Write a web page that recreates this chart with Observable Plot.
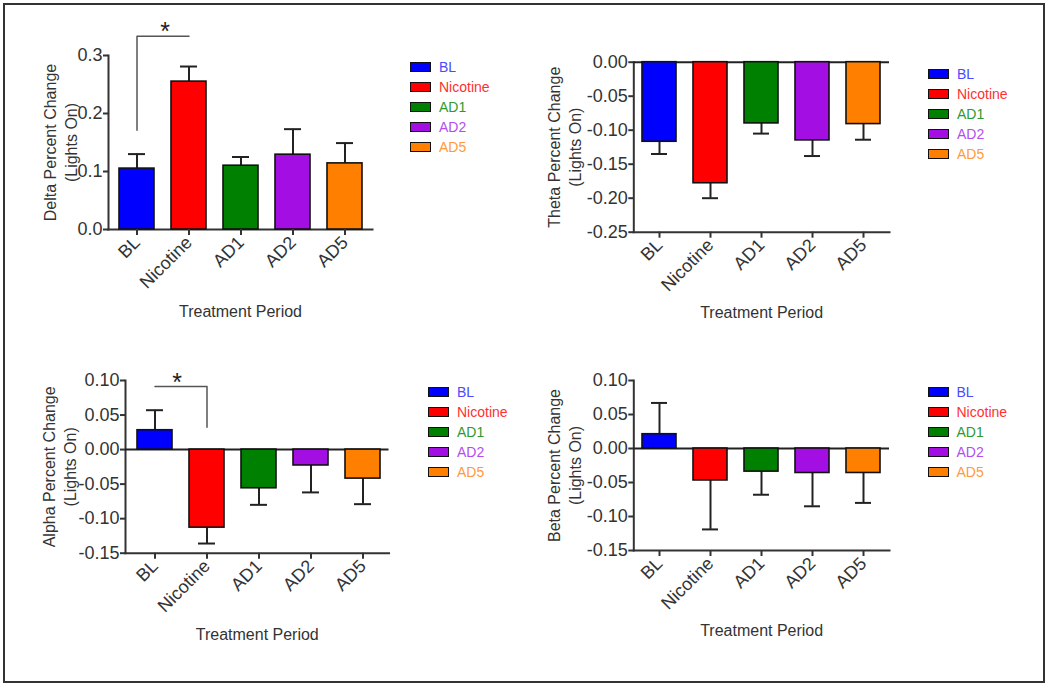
<!DOCTYPE html>
<html><head><meta charset="utf-8">
<script src="https://cdn.jsdelivr.net/npm/d3@7"></script>
<script src="https://cdn.jsdelivr.net/npm/@observablehq/plot@0.6"></script>
<style>
body{margin:0;background:#fff;}
#root{position:relative;width:1050px;height:687px;overflow:hidden;font-family:Arial,"Liberation Sans",sans-serif;background:#fff;}
#border{position:absolute;left:3px;top:3px;width:1038px;height:676px;border:2px solid #333;}
.panel{position:absolute;}
.legend{position:absolute;font-size:14px;}
.item{position:absolute;left:0;height:20px;white-space:nowrap;}
.sw{position:absolute;left:0;top:5px;width:21px;height:10px;box-sizing:border-box;border:1.6px solid #111;}
.lab{position:absolute;left:29px;top:0;line-height:20px;}
</style></head>
<body>
<div id="root"><div id="border"></div></div>
<script>
// ---- data ----
const categories = ["BL", "Nicotine", "AD1", "AD2", "AD5"];
const barColors = ["#0000ff", "#ff0000", "#008000", "#a30fe3", "#ff8000"];
const legendTextColors = ["#4a4aff", "#ff3030", "#2e9a2e", "#b24ef0", "#ff9a3c"];

const deltaMean = [0.105, 0.255, 0.110, 0.129, 0.114];
const deltaErr  = [0.130, 0.281, 0.125, 0.173, 0.149];
const thetaMean = [-0.117, -0.178, -0.090, -0.115, -0.091];
const thetaErr  = [-0.135, -0.200, -0.105, -0.138, -0.114];
const alphaMean = [0.028, -0.113, -0.056, -0.023, -0.042];
const alphaErr  = [0.057, -0.136, -0.080, -0.062, -0.079];
const betaMean  = [0.021, -0.047, -0.034, -0.036, -0.036];
const betaErr   = [0.067, -0.119, -0.068, -0.085, -0.080];

const deltaTicks = [0, 0.1, 0.2, 0.3];
const thetaTicks = [0, -0.05, -0.10, -0.15, -0.20, -0.25];
const alphaTicks = [0.10, 0.05, 0, -0.05, -0.10, -0.15];
const betaTicks  = [0.10, 0.05, 0, -0.05, -0.10, -0.15];

// significance brackets: [category, y] path points
const deltaSig = [{cat: "BL", y: 0.171}, {cat: "BL", y: 0.333}, {cat: "Nicotine", y: 0.333}];
const alphaSig = [{cat: "BL", y: 0.0912}, {cat: "Nicotine", y: 0.0912}, {cat: "Nicotine", y: 0.0323}];
const xTitle = "Treatment Period";

// ---- drawing ----
const root = document.getElementById("root");
const FONT = 'Arial, "Liberation Sans", sans-serif';

function panel(cfg) {
  const data = categories.map((c, i) => ({cat: c, mean: cfg.mean[i], err: cfg.err[i]}));
  const marks = [
    Plot.frame({anchor: "left", stroke: "#333", strokeWidth: 2}),
    Plot.frame({anchor: "bottom", stroke: "#333", strokeWidth: 2}),
  ];
  if (cfg.zeroLine) marks.push(Plot.ruleY([0], {stroke: "#222", strokeWidth: 2}));
  marks.push(
    Plot.ruleX(data, {x: "cat", y1: "mean", y2: "err", stroke: "#222", strokeWidth: 2}),
    Plot.tickY(data, {x: "cat", y: "err", insetLeft: 9, insetRight: 9, stroke: "#222", strokeWidth: 2}),
    Plot.barY(data, {x: "cat", y: "mean", fill: "cat", stroke: "#111", strokeWidth: 1.6}),
    Plot.axisY({ticks: cfg.ticks, tickFormat: d => d.toFixed(cfg.digits), tickSize: 5, tickPadding: 1,
      fontSize: 18, strokeWidth: 2, label: null}),
    Plot.axisX({tickRotate: -45, tickSize: 6, tickPadding: 4, fontSize: 18, strokeWidth: 2, label: null}),
    Plot.text([cfg.label], {frameAnchor: "left", rotate: -90, dx: cfg.labelDx, fontSize: 16,
      lineHeight: 1.3, textAnchor: "middle", lineAnchor: "middle", fill: "#333"}),
    Plot.text([xTitle], {frameAnchor: "bottom", dy: cfg.titleDy, fontSize: 16, lineAnchor: "middle", fill: "#333"})
  );
  if (cfg.sig) {
    marks.push(
      Plot.line(cfg.sig, {x: "cat", y: "y", stroke: "#555", strokeWidth: 1.5}),
      Plot.text(["*"], {x: [cfg.sig[0].cat], y: [cfg.starY], dx: cfg.starDx, dy: 4, fontSize: 25,
        lineAnchor: "bottom", fill: "#222"})
    );
  }
  const chart = Plot.plot({
    width: cfg.width, height: cfg.height,
    marginLeft: cfg.mL, marginRight: cfg.mR, marginTop: cfg.mT, marginBottom: cfg.mB,
    style: {fontFamily: FONT, color: "#333", background: "transparent", overflow: "visible"},
    x: {type: "band", domain: categories, range: cfg.xRange, paddingInner: 0.33, paddingOuter: 0.165},
    y: {domain: cfg.yDomain},
    color: {domain: categories, range: barColors},
    marks
  });
  const wrap = document.createElement("div");
  wrap.className = "panel";
  wrap.style.left = cfg.left + "px";
  wrap.style.top = cfg.top + "px";
  wrap.appendChild(chart);
  root.appendChild(wrap);

  // legend
  const lg = document.createElement("div");
  lg.className = "legend";
  lg.style.left = cfg.legendX + "px";
  lg.style.top = (cfg.legendY - 10) + "px";
  categories.forEach((c, i) => {
    const it = document.createElement("div");
    it.className = "item";
    it.style.top = (i * 20) + "px";
    const sw = document.createElement("div");
    sw.className = "sw";
    sw.style.background = barColors[i];
    const lb = document.createElement("div");
    lb.className = "lab";
    lb.style.color = legendTextColors[i];
    lb.textContent = c;
    it.appendChild(sw); it.appendChild(lb);
    lg.appendChild(it);
  });
  root.appendChild(lg);
}

panel({left: 0, top: 0, width: 520, height: 340, mL: 108, mR: 148, mT: 55, mB: 111,
  xRange: [108, 372], yDomain: [0, 0.3], ticks: deltaTicks, digits: 1,
  label: "Delta Percent Change\n(Lights On)", labelDx: -48.5, titleDy: 82,
  mean: deltaMean, err: deltaErr, zeroLine: false,
  sig: deltaSig, starY: 0.333, starDx: 28, legendX: 410, legendY: 67});

panel({left: 520, top: 0, width: 530, height: 340, mL: 113.3, mR: 161, mT: 61.7, mB: 108.3,
  xRange: [113, 369], yDomain: [-0.25, 0], ticks: thetaTicks, digits: 2,
  label: "Theta Percent Change\n(Lights On)", labelDx: -70, titleDy: 81,
  mean: thetaMean, err: thetaErr, zeroLine: true, legendX: 928, legendY: 73.5});

panel({left: 0, top: 340, width: 520, height: 347, mL: 125, mR: 131.5, mT: 40, mB: 134.3,
  xRange: [127.5, 388.5], yDomain: [-0.15, 0.10], ticks: alphaTicks, digits: 2,
  label: "Alpha Percent Change\n(Lights On)", labelDx: -67, titleDy: 82,
  mean: alphaMean, err: alphaErr, zeroLine: true,
  sig: alphaSig, starY: 0.0912, starDx: 22, legendX: 428, legendY: 391.5});

panel({left: 520, top: 340, width: 530, height: 347, mL: 113.3, mR: 161, mT: 40, mB: 137,
  xRange: [113, 369], yDomain: [-0.15, 0.10], ticks: betaTicks, digits: 2,
  label: "Beta Percent Change\n(Lights On)", labelDx: -70, titleDy: 80,
  mean: betaMean, err: betaErr, zeroLine: true, legendX: 927.5, legendY: 391.5});
</script>
</body></html>
